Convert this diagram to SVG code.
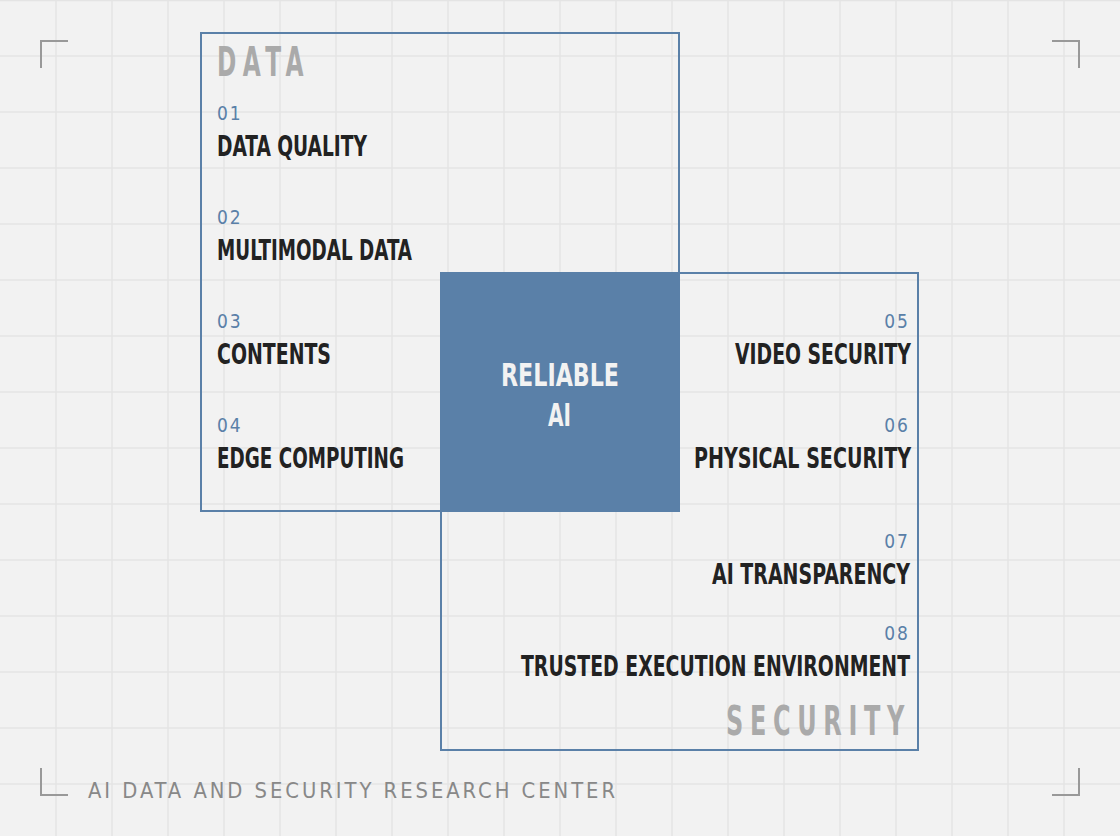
<svg xmlns="http://www.w3.org/2000/svg" width="1120" height="836" viewBox="0 0 1120 836">
<defs>
<style>
.bg{fill:#f2f2f2}
.grid line{stroke:#e4e4e4;stroke-width:1.5}
.corner{fill:none;stroke:#999;stroke-width:2}
.box{fill:none;stroke:#5a80a8;stroke-width:2}
.core{fill:#5a80a8}
text{font-family:"Liberation Sans Narrow","DejaVu Sans Condensed","Liberation Sans",sans-serif}
.num{font-size:19px;fill:#5a80a8;letter-spacing:2px}
.title{font-size:29px;font-weight:700;fill:#222}
.big{font-size:40px;font-weight:700;fill:#aaa;letter-spacing:10px}
.core-t{font-size:32px;font-weight:700;fill:#f2f2f2}
.foot{font-size:22px;fill:#888;letter-spacing:3px}
</style>
</defs>
<rect class="bg" x="0" y="0" width="1120" height="836"/>
<g class="grid">
<line x1="56" y1="0" x2="56" y2="836"/><line x1="112" y1="0" x2="112" y2="836"/><line x1="168" y1="0" x2="168" y2="836"/><line x1="224" y1="0" x2="224" y2="836"/><line x1="280" y1="0" x2="280" y2="836"/><line x1="336" y1="0" x2="336" y2="836"/><line x1="392" y1="0" x2="392" y2="836"/><line x1="448" y1="0" x2="448" y2="836"/><line x1="504" y1="0" x2="504" y2="836"/><line x1="560" y1="0" x2="560" y2="836"/><line x1="616" y1="0" x2="616" y2="836"/><line x1="672" y1="0" x2="672" y2="836"/><line x1="728" y1="0" x2="728" y2="836"/><line x1="784" y1="0" x2="784" y2="836"/><line x1="840" y1="0" x2="840" y2="836"/><line x1="896" y1="0" x2="896" y2="836"/><line x1="952" y1="0" x2="952" y2="836"/><line x1="1008" y1="0" x2="1008" y2="836"/><line x1="1064" y1="0" x2="1064" y2="836"/>
<line x1="0" y1="0.5" x2="1120" y2="0.5"/><line x1="0" y1="56" x2="1120" y2="56"/><line x1="0" y1="112" x2="1120" y2="112"/><line x1="0" y1="168" x2="1120" y2="168"/><line x1="0" y1="224" x2="1120" y2="224"/><line x1="0" y1="280" x2="1120" y2="280"/><line x1="0" y1="336" x2="1120" y2="336"/><line x1="0" y1="392" x2="1120" y2="392"/><line x1="0" y1="448" x2="1120" y2="448"/><line x1="0" y1="504" x2="1120" y2="504"/><line x1="0" y1="560" x2="1120" y2="560"/><line x1="0" y1="616" x2="1120" y2="616"/><line x1="0" y1="672" x2="1120" y2="672"/><line x1="0" y1="728" x2="1120" y2="728"/><line x1="0" y1="784" x2="1120" y2="784"/>
</g>
<g id="corners">
<path class="corner" d="M41,68 V41 H68"/>
<path class="corner" d="M1052,41 H1079 V68"/>
<path class="corner" d="M41,768 V795 H68"/>
<path class="corner" d="M1079,768 V795 H1052"/>
</g>
<g id="data">
<rect class="box" x="201" y="33" width="478" height="478"/>
<text class="big" x="217" y="76" textLength="93" lengthAdjust="spacingAndGlyphs">DATA</text>
</g>
<g id="security">
<rect class="box" x="441" y="273" width="477" height="477"/>
<text class="big" x="726" y="735" textLength="185" lengthAdjust="spacingAndGlyphs">SECURITY</text>
</g>
<g id="reliable-ai">
<rect class="core" x="440" y="272" width="240" height="240"/>
<text class="core-t" x="501" y="386" textLength="118" lengthAdjust="spacingAndGlyphs">RELIABLE</text>
<text class="core-t" x="548" y="426" textLength="23" lengthAdjust="spacingAndGlyphs">AI</text>
</g>
<g id="item-01">
<text class="num" x="217" y="120">01</text>
<text class="title" x="217" y="156" textLength="150" lengthAdjust="spacingAndGlyphs">DATA QUALITY</text>
</g>
<g id="item-02">
<text class="num" x="217" y="224">02</text>
<text class="title" x="217" y="260" textLength="195" lengthAdjust="spacingAndGlyphs">MULTIMODAL DATA</text>
</g>
<g id="item-03">
<text class="num" x="217" y="328">03</text>
<text class="title" x="217" y="364" textLength="114" lengthAdjust="spacingAndGlyphs">CONTENTS</text>
</g>
<g id="item-04">
<text class="num" x="217" y="432">04</text>
<text class="title" x="217" y="468" textLength="187" lengthAdjust="spacingAndGlyphs">EDGE COMPUTING</text>
</g>
<g id="item-05">
<text class="num" x="910" y="328" text-anchor="end">05</text>
<text class="title" x="735" y="364" textLength="176" lengthAdjust="spacingAndGlyphs">VIDEO SECURITY</text>
</g>
<g id="item-06">
<text class="num" x="910" y="432" text-anchor="end">06</text>
<text class="title" x="694" y="468" textLength="217" lengthAdjust="spacingAndGlyphs">PHYSICAL SECURITY</text>
</g>
<g id="item-07">
<text class="num" x="910" y="548" text-anchor="end">07</text>
<text class="title" x="712" y="584" textLength="198" lengthAdjust="spacingAndGlyphs">AI TRANSPARENCY</text>
</g>
<g id="item-08">
<text class="num" x="910" y="640" text-anchor="end">08</text>
<text class="title" x="521" y="676" textLength="389" lengthAdjust="spacingAndGlyphs">TRUSTED EXECUTION ENVIRONMENT</text>
</g>
<g id="connectors"></g>
<g id="footer">
<text class="foot" x="88" y="798" textLength="530" lengthAdjust="spacingAndGlyphs">AI DATA AND SECURITY RESEARCH CENTER</text>
</g>
</svg>
